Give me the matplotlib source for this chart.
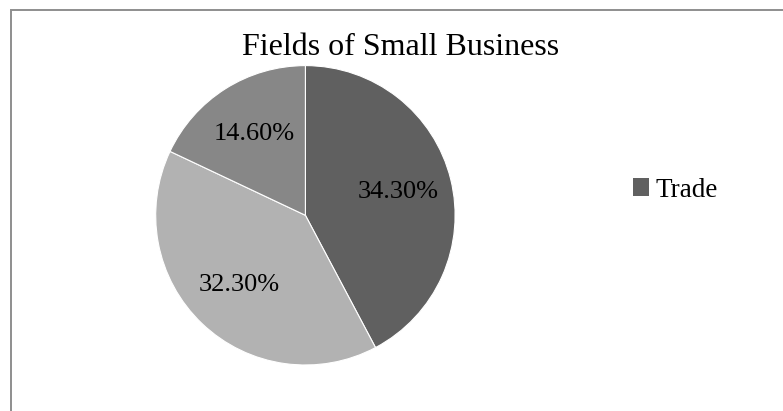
import matplotlib
matplotlib.use("Agg")
import matplotlib.pyplot as plt
from matplotlib.patches import Rectangle

plt.rcParams['font.family'] = ['Liberation Serif', 'DejaVu Serif']

# Данные
categories = ["Trade"]
values = [34.30, 32.30, 14.60]
colors = ["#606060", "#b2b2b2", "#878787"]
title = "Fields of Small Business"

W, H = 783, 411
fig = plt.figure(figsize=(W / 100, H / 100), dpi=100)

# рамка области диаграммы (правый и нижний край обрезаны)
fig.patches.append(Rectangle((11 / W, -0.1), 1.2, (H - 10) / H + 0.1,
                             transform=fig.transFigure, fill=False,
                             edgecolor="#8e8e8e", linewidth=1.4))

# пирог
cx, cy, r = 305.4, 215.3, 149.7
ax = fig.add_axes([(cx - r) / W, (H - cy - r) / H, 2 * r / W, 2 * r / H])
total = sum(values)
wedges, texts, autotexts = ax.pie(
    values, colors=colors, startangle=90, counterclock=False,
    autopct=lambda p: f"{p * total / 100:.2f}%", pctdistance=0.64,
    wedgeprops=dict(edgecolor="white", linewidth=0.8),
    textprops=dict(fontsize=19, color="black"))
ax.set_xlim(-1, 1)
ax.set_ylim(-1, 1)
ax.set_aspect("equal")
ax.axis("off")

fig.text(401 / W, (H - 55) / H, title, ha="center", va="baseline", fontsize=23)

leg = fig.legend([wedges[0]], categories, loc="center left",
                 bbox_to_anchor=(633 / W, (H - 190) / H), frameon=False,
                 fontsize=19.5, handlelength=0.6, handleheight=0.6,
                 handletextpad=0.22, borderpad=0, borderaxespad=0)
leg.legend_handles[0].set_edgecolor("none")

fig.savefig("out.png", dpi=100)
